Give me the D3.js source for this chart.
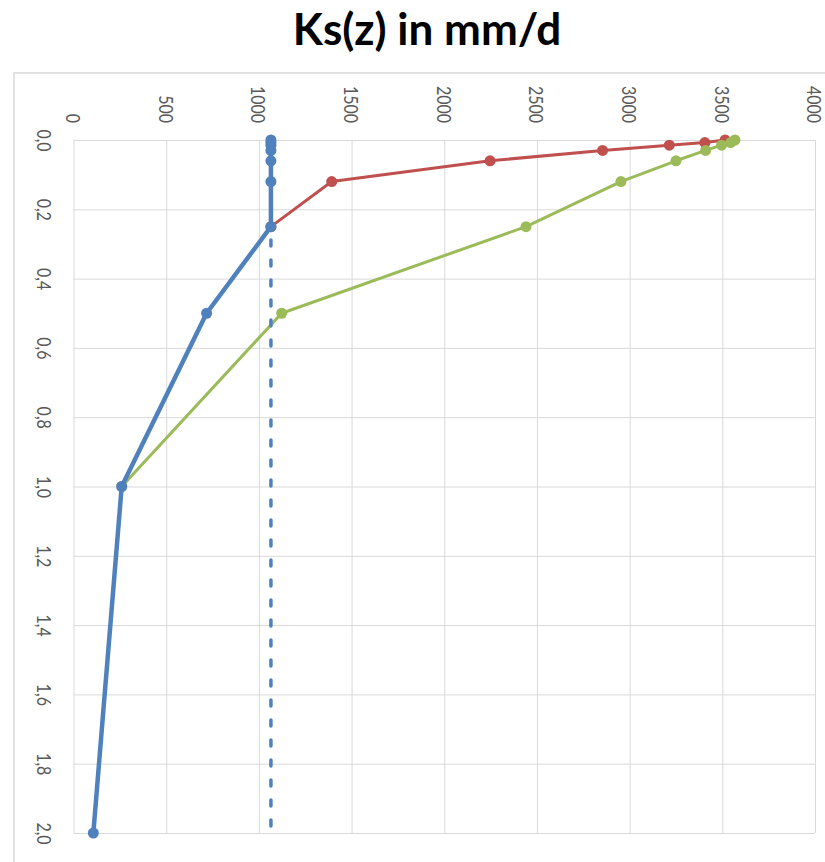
<!DOCTYPE html>
<html>
<head>
<meta charset="utf-8">
<script src="https://cdn.jsdelivr.net/npm/d3@7"></script>
<style>
  html, body { margin: 0; padding: 0; background: #fff; }
  svg { display: block; }
</style>
</head>
<body>
<script>
// ---- data ----
const title = "Ks(z) in mm/d";
const xTicks = [0, 500, 1000, 1500, 2000, 2500, 3000, 3500, 4000];
const yTicks = [0, 0.2, 0.4, 0.6, 0.8, 1.0, 1.2, 1.4, 1.6, 1.8, 2.0];

const blueDepth = [0, 0.0075, 0.015, 0.03, 0.06, 0.12, 0.25, 0.5, 1.0, 2.0];
const blueKs    = [1065, 1065, 1065, 1065, 1065, 1065, 1065, 718, 260, 107];

const redDepth  = [0, 0.0075, 0.015, 0.03, 0.06, 0.12, 0.25];
const redKs     = [3515, 3406, 3214, 2854, 2247, 1393, 1065];

const greenDepth = [0, 0.0075, 0.015, 0.03, 0.06, 0.12, 0.25, 0.5, 1.0];
const greenKs    = [3568, 3545, 3496, 3410, 3250, 2953, 2441, 1123, 260];

const dashDepth = [0, 2.0];
const dashKs    = [1065, 1065];

// ---- layout ----
const W = 825, H = 862;
const svg = d3.select("body").append("svg").attr("width", W).attr("height", H);

const x = d3.scaleLinear().domain([0, 4000]).range([73.5, 815]);
const y = d3.scaleLinear().domain([0, 2]).range([140, 833]);

// outer chart frame
svg.append("rect")
  .attr("x", 14).attr("y", 73)
  .attr("width", W).attr("height", H)
  .attr("fill", "none").attr("stroke", "#d9d9d9").attr("stroke-width", 1.5);

// title
svg.append("text")
  .attr("x", 427).attr("y", 45)
  .attr("text-anchor", "middle")
  .attr("font-family", "Lato, 'Open Sans', sans-serif")
  .attr("font-weight", "bold")
  .attr("font-size", 44)
  .attr("fill", "#000")
  .text(title);

const labelFont = "Lato, 'Liberation Sans', sans-serif";

// x axis (top) with vertical gridlines
const gx = svg.append("g").attr("transform", `translate(0,${y(0)})`)
  .call(d3.axisTop(x).tickValues(xTicks).tickSize(-(y(2) - y(0))).tickFormat(d => String(d)));
gx.select(".domain").remove();
gx.selectAll(".tick line").attr("stroke", "#d9d9d9").attr("stroke-width", 1);
gx.selectAll(".tick text")
  .attr("x", 0).attr("y", 7).attr("dy", null)
  .attr("transform", "translate(0,-17) rotate(90) scale(1,1.15)")
  .attr("text-anchor", "end")
  .attr("font-family", labelFont).attr("font-size", 16)
  .attr("fill", "#595959");

// y axis (left) with horizontal gridlines
const gy = svg.append("g").attr("transform", `translate(${x(0)},0)`)
  .call(d3.axisLeft(y).tickValues(yTicks).tickSize(-(x(4000) - x(0)))
    .tickFormat(d => d.toFixed(1).replace(".", ",")));
gy.select(".domain").remove();
gy.selectAll(".tick line").attr("stroke", "#d9d9d9").attr("stroke-width", 1);
gy.selectAll(".tick text")
  .attr("x", 0).attr("y", 0).attr("dy", null)
  .attr("transform", "translate(-37,0) rotate(90) scale(1,1.15)")
  .attr("text-anchor", "middle")
  .attr("font-family", labelFont).attr("font-size", 16)
  .attr("fill", "#595959");

// series
const line = d3.line().x(d => x(d[0])).y(d => y(d[1]));
function series(ks, depth, color, width, r, markers, dash) {
  const pts = ks.map((k, i) => [k, depth[i]]);
  const p = svg.append("path").datum(pts)
    .attr("d", line).attr("fill", "none")
    .attr("stroke", color).attr("stroke-width", width)
    .attr("stroke-linejoin", "round");
  if (dash) p.attr("stroke-dasharray", dash).attr("stroke-linecap", "round");
  if (markers) {
    svg.append("g").selectAll("circle").data(pts).join("circle")
      .attr("cx", d => x(d[0])).attr("cy", d => y(d[1]))
      .attr("r", r).attr("fill", color);
  }
}

series(redKs, redDepth, "#c0504d", 3, 5.5, true);
series(greenKs, greenDepth, "#9bbb59", 3, 5.5, true);
series(dashKs, dashDepth, "#4f81bd", 3.5, 0, false, "6,14");
series(blueKs, blueDepth, "#4f81bd", 4.5, 5.5, true);
</script>
</body>
</html>
